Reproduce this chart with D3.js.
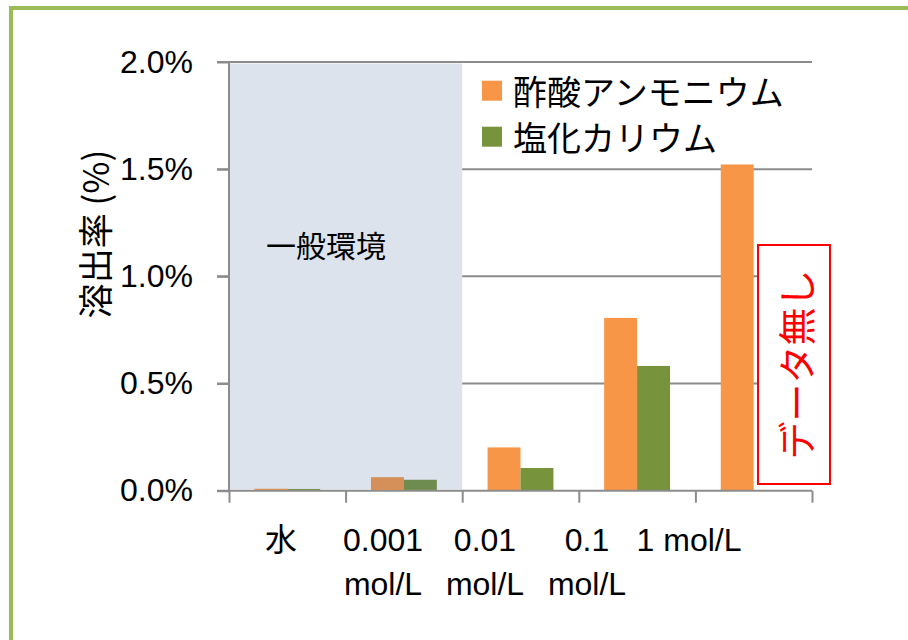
<!DOCTYPE html>
<html>
<head>
<meta charset="utf-8">
<script src="https://cdn.jsdelivr.net/npm/d3@7"></script>
<style>
  body { margin: 0; background: #fff; }
  svg text { font-family: "Liberation Sans", Arial, "Noto Sans CJK JP", sans-serif; }
  .jp { font-family: "Noto Sans CJK JP", sans-serif; }
</style>
</head>
<body>
<div class="chart"></div>
<script>
var categories = ["水", "0.001 mol/L", "0.01 mol/L", "0.1 mol/L", "1 mol/L"];
var labelLines = [["水"], ["0.001", "mol/L"], ["0.01", "mol/L"], ["0.1", "mol/L"], ["1 mol/L"]];
var series = ["酢酸アンモニウム", "塩化カリウム"];
var ammoniumAcetate = [0.009, 0.063, 0.202, 0.806, 1.522];
var potassiumChloride = [0.008, 0.051, 0.106, 0.582, null];
var yTicks = [0, 0.5, 1.0, 1.5, 2.0];
var colors = ["#f79646", "#77933c"];

var W = 908, H = 640;
var plot = { left: 229, right: 812, top: 62, bottom: 490.7 };

var svg = d3.select(".chart").append("svg")
  .attr("width", W)
  .attr("height", H);

// green frame (top + left only)
svg.append("line").attr("x1", 11).attr("x2", W).attr("y1", 8).attr("y2", 8)
  .attr("stroke", "#9bbb59").attr("stroke-width", 4);
svg.append("line").attr("x1", 11).attr("x2", 11).attr("y1", 6).attr("y2", H)
  .attr("stroke", "#9bbb59").attr("stroke-width", 4);

var y = d3.scaleLinear().domain([0, 2]).range([plot.bottom, plot.top]);
var x = d3.scaleBand().domain(categories).range([plot.left, plot.right]).padding(0);
var xSub = d3.scaleBand().domain(series).range([0, x.bandwidth()]).paddingInner(0).paddingOuter(0.77);
var xLabel = d3.scalePoint().domain(categories).range([281, 689]);

// gridlines
svg.append("g")
  .selectAll("line")
  .data(yTicks.filter(function(d) { return d > 0; }))
  .enter().append("line")
  .attr("x1", plot.left - 12)
  .attr("x2", plot.right)
  .attr("y1", function(d) { return y(d); })
  .attr("y2", function(d) { return y(d); })
  .attr("stroke", "#8c8c8c")
  .attr("stroke-width", 2);

// shaded "一般環境" region: white base hides gridlines
var shadeX0 = x(categories[0]) + 1, shadeX1 = x(categories[2]);
svg.append("rect")
  .attr("x", shadeX0).attr("y", y(2) + 1.5)
  .attr("width", shadeX1 - shadeX0).attr("height", y(0) - y(2) - 3)
  .attr("fill", "#fff");

// bars
var rows = categories.map(function(c, i) {
  return { cat: c, values: [ammoniumAcetate[i], potassiumChloride[i]] };
});
var groups = svg.append("g").selectAll("g")
  .data(rows)
  .enter().append("g")
  .attr("transform", function(d) { return "translate(" + x(d.cat) + ",0)"; });

groups.selectAll("rect")
  .data(function(d) {
    return d.values.map(function(v, j) { return { name: series[j], value: v, color: colors[j] }; })
      .filter(function(e) { return e.value != null; });
  })
  .enter().append("rect")
  .attr("x", function(d) { return xSub(d.name); })
  .attr("width", xSub.bandwidth())
  .attr("y", function(d) { return y(d.value); })
  .attr("height", function(d) { return y(0) - y(d.value); })
  .attr("fill", function(d) { return d.color; });

// translucent overlay
svg.append("rect")
  .attr("x", shadeX0).attr("y", y(2) + 1.5)
  .attr("width", shadeX1 - shadeX0).attr("height", y(0) - y(2) - 3)
  .attr("fill", "rgb(80,115,160)")
  .attr("fill-opacity", 0.2);

svg.append("text")
  .attr("class", "jp")
  .attr("x", (shadeX0 + shadeX1) / 2 - 20)
  .attr("y", 257)
  .attr("text-anchor", "middle")
  .style("font-size", "30px")
  .style("fill", "#000")
  .text("一般環境");

// y axis
var yAxis = d3.axisLeft(y)
  .tickValues(yTicks)
  .tickSize(12)
  .tickPadding(24)
  .tickFormat(function(d) { return d3.format(".1f")(d) + "%"; });

var gy = svg.append("g")
  .attr("transform", "translate(" + plot.left + ",0)")
  .call(yAxis);
gy.select(".domain").attr("stroke", "#8c8c8c").attr("stroke-width", 2)
  .attr("d", "M0," + plot.top + "V" + plot.bottom);
gy.selectAll(".tick line").attr("stroke", "#8c8c8c").attr("stroke-width", 2);
gy.selectAll(".tick text").style("font-size", "32px").style("fill", "#000")
  .attr("font-family", "Liberation Sans, Arial, sans-serif");

// x axis (tick marks at category boundaries)
var xEdge = d3.scaleLinear().domain([0, categories.length]).range([plot.left, plot.right]);
var gx = svg.append("g")
  .attr("transform", "translate(0," + plot.bottom + ")")
  .call(d3.axisBottom(xEdge).ticks(categories.length).tickSize(12).tickFormat(""));
gx.select(".domain").attr("stroke", "#8c8c8c").attr("stroke-width", 2)
  .attr("d", "M" + (plot.left - 12) + ",0H" + plot.right);
gx.selectAll(".tick line").attr("stroke", "#8c8c8c").attr("stroke-width", 2);

// category labels
var lbl = svg.append("g").selectAll("text")
  .data(categories)
  .enter().append("text")
  .attr("x", function(d) { return xLabel(d); })
  .attr("y", 551)
  .attr("text-anchor", "middle")
  .style("font-size", "32px")
  .style("fill", "#000");
lbl.selectAll("tspan")
  .data(function(d, i) { return labelLines[i]; })
  .enter().append("tspan")
  .attr("x", function() { return d3.select(this.parentNode).attr("x"); })
  .attr("dy", function(d, i) { return i === 0 ? 0 : 44; })
  .attr("class", function(d) { return d === "水" ? "jp" : null; })
  .text(function(d) { return d; });

// y axis title
svg.append("text")
  .attr("class", "jp")
  .attr("transform", "translate(93,234) rotate(-90)")
  .attr("text-anchor", "middle")
  .attr("dominant-baseline", "central")
  .style("font-size", "35px")
  .style("fill", "#000")
  .text("溶出率 (%)");

// legend
var legend = svg.append("g").selectAll("g")
  .data(series)
  .enter().append("g")
  .attr("transform", function(d, i) { return "translate(482," + (80.7 + i * 46) + ")"; });
legend.append("rect")
  .attr("width", 20).attr("height", 20)
  .attr("fill", function(d, i) { return colors[i]; });
legend.append("text")
  .attr("class", "jp")
  .attr("x", 31)
  .attr("y", 10)
  .attr("dominant-baseline", "central")
  .style("font-size", "34px")
  .style("fill", "#000")
  .text(function(d) { return d; });

// "no data" note
var noteX = 758, noteY = 245, noteW = 72, noteH = 239;
svg.append("rect")
  .attr("x", noteX).attr("y", noteY)
  .attr("width", noteW).attr("height", noteH)
  .attr("fill", "#fff")
  .attr("stroke", "#ff0000")
  .attr("stroke-width", 2);
svg.append("text")
  .attr("class", "jp")
  .attr("transform", "translate(" + (noteX + noteW / 2) + "," + (noteY + noteH / 2) + ") rotate(-90)")
  .attr("text-anchor", "middle")
  .attr("dominant-baseline", "central")
  .style("font-size", "38px")
  .style("fill", "#ff0000")
  .text("データ無し");
</script>
</body>
</html>
